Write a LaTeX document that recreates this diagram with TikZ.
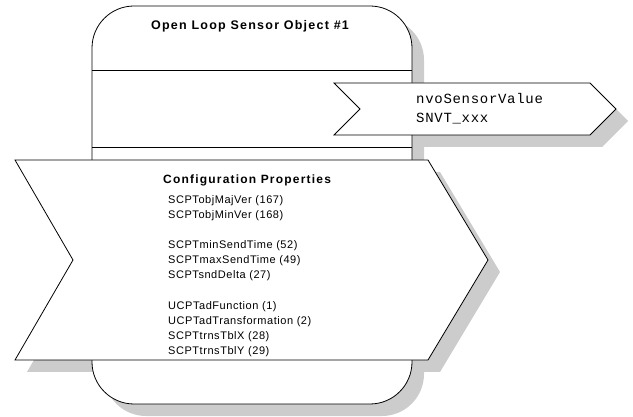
\documentclass[tikz,border=0pt]{standalone}
\usepackage{fontspec}
\setmainfont{Liberation Sans}
\newfontfamily\titlefont{Liberation Sans}[LetterSpace=10]
\newfontfamily\headfont{Liberation Sans}[LetterSpace=10]
\newfontfamily\itemfont{Liberation Sans}[LetterSpace=5]
\newfontfamily\codefont{Liberation Mono}[LetterSpace=5]
\begin{document}
\begin{tikzpicture}[x=1pt,y=-1pt,
  shade/.style={fill=black!20,draw=none},
  outline/.style={fill=white,draw=black,line width=0.8pt,line join=miter},
  txt/.style={inner sep=0pt,anchor=base west},
  item/.style={txt,font=\itemfont\fontsize{11}{13}\selectfont}]
\useasboundingbox (0,0) rectangle (633,417);
% shadows
\begin{scope}[shift={(12,12)}]
  \fill[shade,rounded corners=42pt] (92,6) rectangle (412,404);
  \fill[shade] (334,83) -- (590,83) -- (616,109) -- (590,135) -- (334,135) -- (360,109) -- cycle;
  \fill[shade] (15,160) -- (428,160) -- (488,260) -- (428,360) -- (15,360) -- (73,260) -- cycle;
\end{scope}
% object box
\draw[outline,rounded corners=42pt] (92,6) rectangle (412,404);
\draw[line width=0.8pt] (92,70) -- (412,70);
\draw[line width=0.8pt] (92,147) -- (412,147);
% output chevron
\draw[outline] (334,83) -- (590,83) -- (616,109) -- (590,135) -- (334,135) -- (360,109) -- cycle;
% configuration chevron
\draw[outline] (15,160) -- (428,160) -- (488,260) -- (428,360) -- (15,360) -- (73,260) -- cycle;
% texts
\node[inner sep=0pt,anchor=base] (title) at (250,30) {\titlefont\bfseries\fontsize{12.5}{15}\selectfont Open Loop Sensor Object \#1};
\node[txt] (nvo) at (416,104) {\codefont\fontsize{14}{16}\selectfont nvoSensorValue};
\node[txt] (snvt) at (416,123) {\codefont\fontsize{14}{16}\selectfont SNVT\_xxx};
\node[txt] (cfg) at (163,184) {\headfont\bfseries\fontsize{12}{14}\selectfont Configuration Properties};
\node[item] (i1) at (168,204) {SCPTobjMajVer (167)};
\node[item] (i2) at (168,219) {SCPTobjMinVer (168)};
\node[item] (i3) at (168,249) {SCPTminSendTime (52)};
\node[item] (i4) at (168,264) {SCPTmaxSendTime (49)};
\node[item] (i5) at (168,279) {SCPTsndDelta (27)};
\node[item] (i6) at (168,310) {UCPTadFunction (1)};
\node[item] (i7) at (168,325) {UCPTadTransformation (2)};
\node[item] (i8) at (168,340) {SCPTtrnsTblX (28)};
\node[item] (i9) at (168,355) {SCPTtrnsTblY (29)};
\end{tikzpicture}
\end{document}
